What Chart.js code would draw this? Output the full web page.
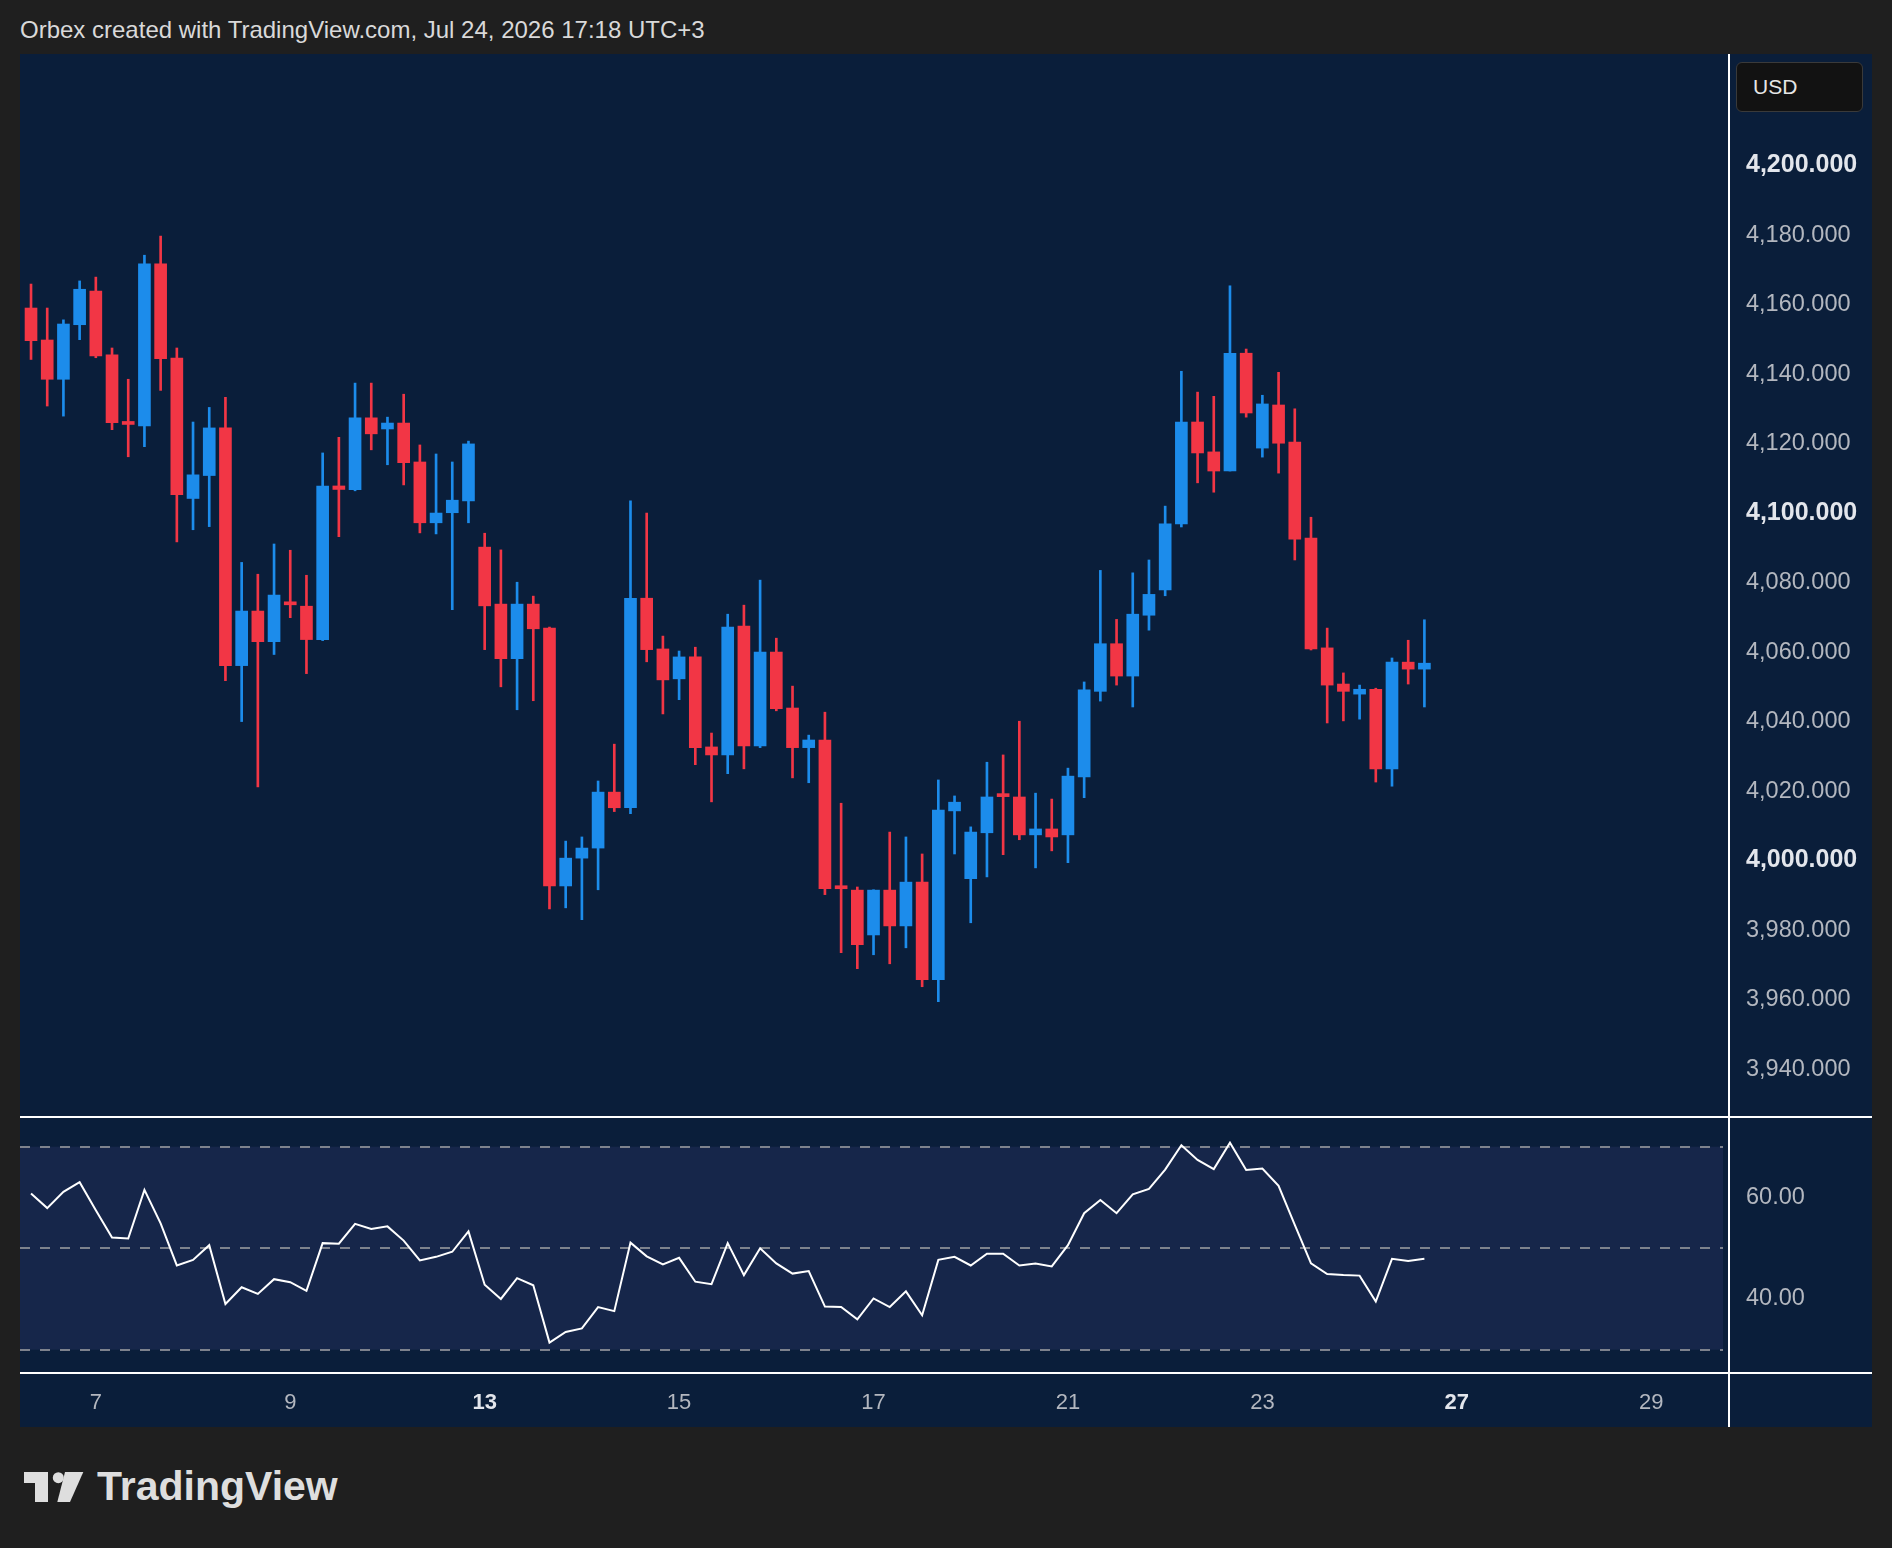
<!DOCTYPE html>
<html>
<head>
<meta charset="utf-8">
<title>4H chart</title>
<script src="https://cdn.jsdelivr.net/npm/chart.js@4.4.1/dist/chart.umd.min.js"></script>
<style>
    html, body { margin: 0; padding: 0; width: 1892px; height: 1548px; overflow: hidden; background: #1f1f1f; font-family: "Liberation Sans", Arial, sans-serif; }
    .title { position: absolute; left: 20px; top: 15px; font-size: 24px; line-height: 30px; color: #d9d9d9; white-space: nowrap; }
    .panel { position: absolute; left: 20px; top: 54px; width: 1852px; height: 1373px; background: #0a1e3a; }
    #main { position: absolute; left: 20px; top: 54px; }
    #rsi { position: absolute; left: 20px; top: 1116px; }
    .usd { position: absolute; left: 1736px; top: 62px; width: 125px; height: 48px; background: #121212; border: 1px solid #3a3a3a; border-radius: 6px; color: #e6e6e6; font-size: 21px; line-height: 48px; box-sizing: content-box; }
    .usd span { margin-left: 16px; }
    .logo { position: absolute; left: 24px; top: 1472px; }
    .brand { position: absolute; left: 97px; top: 1461px; font-size: 41px; font-weight: bold; color: #dedede; line-height: 50px; }
</style>
</head>
<body>
<div class="title">Orbex created with TradingView.com, Jul 24, 2026 17:18 UTC+3</div>
<div class="panel"></div>
<canvas id="main" width="1852" height="1062"></canvas>
<canvas id="rsi" width="1852" height="311"></canvas>
<div class="usd"><span>USD</span></div>
<svg class="logo" width="60" height="30" viewBox="0 0 60 30">
    <path d="M0 0H24V11H24V30H11V11H0Z" fill="#dedede"/>
    <circle cx="34.3" cy="5.7" r="5.5" fill="#dedede"/>
    <path d="M41 0H59.3L46 30H33.3Z" fill="#dedede"/>
</svg>
<div class="brand">TradingView</div>

<script>
// 4H candles, Jul 6 - Jul 24
const opens = [4159.0, 4149.8, 4138.5, 4154.2, 4163.9, 4145.5, 4126.0, 4125.1, 4171.7, 4144.6,
    4104.2, 4110.8, 4124.5, 4056.1, 4071.8, 4063.0, 4074.2, 4073.2, 4063.6, 4107.8,
    4106.7, 4127.4, 4124.2, 4125.9, 4114.7, 4097.2, 4100.1, 4103.5, 4090.2, 4073.8,
    4058.1, 4073.8, 4066.9, 3992.7, 4000.7, 4003.6, 4019.7, 4015.2, 4075.5, 4060.9,
    4052.3, 4058.6, 4032.7, 4030.4, 4067.5, 4033.0, 4060.0, 4043.9, 4032.5, 4034.7,
    3992.5, 3991.5, 3978.6, 3991.5, 3981.2, 3993.8, 3965.7, 4014.3, 3994.8, 4008.0,
    4018.8, 4018.3, 4007.4, 4009.1, 4007.4, 4024.1, 4048.7, 4062.4, 4053.1, 4070.6,
    4077.9, 4096.9, 4126.2, 4117.6, 4112.1, 4146.0, 4118.7, 4131.1, 4120.4, 4092.8,
    4061.2, 4050.8, 4047.9, 4049.3, 4026.4, 4057.1, 4055.1]
const highs = [4165.9, 4159.0, 4155.6, 4166.8, 4167.9, 4147.5, 4138.5, 4174.2, 4179.7, 4147.5,
    4126.2, 4130.4, 4133.3, 4085.8, 4082.4, 4091.1, 4089.3, 4082.1, 4117.3, 4121.8,
    4137.4, 4137.4, 4127.6, 4134.2, 4119.6, 4117.0, 4114.7, 4120.7, 4094.2, 4089.4,
    4080.1, 4076.1, 4067.2, 4005.6, 4006.8, 4022.9, 4033.5, 4103.5, 4100.0, 4064.6,
    4060.3, 4061.4, 4036.7, 4070.9, 4073.5, 4080.7, 4064.0, 4050.2, 4036.1, 4042.7,
    4016.5, 3992.4, 3991.6, 4008.2, 4006.8, 4001.9, 4023.2, 4018.6, 4009.7, 4028.3,
    4030.4, 4040.1, 4019.4, 4017.7, 4026.6, 4051.4, 4083.5, 4069.4, 4082.8, 4086.5,
    4102.0, 4140.8, 4134.8, 4133.6, 4165.4, 4147.2, 4133.9, 4140.5, 4130.0, 4098.8,
    4066.9, 4054.0, 4050.5, 4049.6, 4058.3, 4063.4, 4069.3]
const lows = [4144.2, 4130.8, 4127.9, 4149.9, 4144.7, 4124.0, 4116.2, 4119.1, 4135.3, 4091.7,
    4095.2, 4096.1, 4051.8, 4040.0, 4021.2, 4059.3, 4069.9, 4053.8, 4063.3, 4093.2,
    4106.4, 4118.2, 4113.9, 4108.1, 4094.3, 4094.0, 4072.2, 4097.2, 4060.7, 4050.0,
    4043.4, 4046.0, 3986.1, 3986.4, 3983.0, 3991.6, 4014.1, 4013.5, 4057.2, 4042.2,
    4046.3, 4027.6, 4016.9, 4025.0, 4026.4, 4032.5, 4043.1, 4023.8, 4022.4, 3990.2,
    3973.5, 3968.9, 3972.9, 3970.3, 3974.9, 3963.7, 3959.4, 4001.9, 3982.1, 3995.3,
    4001.7, 4006.0, 3997.9, 4002.8, 3999.4, 4018.1, 4045.9, 4050.5, 4044.2, 4066.3,
    4076.2, 4096.0, 4108.7, 4106.0, 4112.1, 4127.6, 4116.1, 4111.5, 4086.5, 4060.6,
    4039.6, 4040.2, 4040.7, 4022.6, 4021.4, 4050.8, 4044.2]
const closes = [4149.6, 4138.5, 4154.4, 4164.4, 4145.2, 4126.0, 4125.5, 4171.7, 4144.4, 4105.3,
    4111.0, 4124.5, 4056.1, 4071.8, 4063.0, 4076.4, 4073.6, 4063.6, 4107.8, 4106.8,
    4127.4, 4122.8, 4125.9, 4114.5, 4097.2, 4100.0, 4103.7, 4119.9, 4073.3, 4058.1,
    4073.8, 4066.7, 3992.7, 4000.7, 4003.6, 4019.7, 4015.2, 4075.5, 4060.7, 4052.0,
    4058.6, 4032.5, 4030.4, 4067.2, 4033.0, 4060.0, 4043.7, 4032.5, 4034.7, 3991.9,
    3991.9, 3975.8, 3991.5, 3981.2, 3993.8, 3965.7, 4014.5, 4016.8, 4008.2, 4018.3,
    4018.4, 4007.4, 4009.1, 4006.8, 4024.3, 4049.1, 4062.4, 4053.1, 4070.9, 4076.6,
    4096.9, 4126.2, 4117.3, 4112.1, 4146.0, 4128.8, 4131.4, 4120.1, 4092.5, 4060.9,
    4050.5, 4048.7, 4049.3, 4026.4, 4057.1, 4055.1, 4056.8]

// RSI(14)
const rsi = [60.8, 57.9, 61.1, 63.0, 57.5, 52.1, 51.9, 61.5, 54.9, 46.6,
    47.7, 50.6, 39.0, 42.3, 41.0, 43.9, 43.3, 41.6, 51.0, 50.9,
    54.8, 53.8, 54.3, 51.5, 47.6, 48.3, 49.3, 53.3, 42.8, 40.0,
    44.1, 42.7, 31.4, 33.5, 34.2, 38.4, 37.6, 51.1, 48.4, 46.8,
    48.1, 43.4, 42.9, 51.0, 44.7, 50.0, 47.0, 45.0, 45.5, 38.5,
    38.4, 36.0, 40.1, 38.4, 41.5, 36.8, 47.7, 48.3, 46.6, 48.9,
    48.9, 46.6, 47.0, 46.4, 50.6, 56.9, 59.5, 56.9, 60.6, 61.7,
    65.5, 70.3, 67.4, 65.6, 70.8, 65.4, 65.7, 62.3, 54.6, 47.0,
    44.9, 44.7, 44.6, 39.5, 47.9, 47.5, 47.9]

const priceTicks = [3940, 3960, 3980, 4000, 4020, 4040, 4060, 4080, 4100, 4120, 4140, 4160, 4180, 4200]
const boldPrices = [4000, 4100, 4200]
const rsiTicks = [40, 60]
const rsiLevels = [70, 50, 30]
const dayTicks = [4, 16, 28, 40, 52, 64, 76, 88, 100]
const dayLabels = ['7', '9', '13', '15', '17', '21', '23', '27', '29']
const boldDays = ['13', '27']

const up = '#1c8ceb'
const down = '#f23645'
const axisFont = '"Liberation Sans", Arial, sans-serif'
const xMin = -0.68
const xMax = 104.8

Chart.defaults.font.family = axisFont

const colors = closes.map((c, i) => c >= opens[i] ? up : down)

// white separators of the panes
const separators = {
    id: 'separators',
    afterDraw(chart, args, opts) {
        const { ctx, chartArea } = chart
        ctx.save()
        ctx.strokeStyle = '#ffffff'
        ctx.lineWidth = 2
        ctx.beginPath()
        ctx.moveTo(chartArea.right, 0)
        ctx.lineTo(chartArea.right, chart.height)
        if (opts.top) {
            ctx.moveTo(0, 1)
            ctx.lineTo(chart.width, 1)
        }
        if (opts.bottom) {
            ctx.moveTo(0, chartArea.bottom)
            ctx.lineTo(chart.width, chartArea.bottom)
        }
        ctx.stroke()
        ctx.restore()
    }
}

// rsi 30-70 band and dashed levels
const rsiBand = {
    id: 'rsiBand',
    beforeDatasetsDraw(chart) {
        const { ctx, chartArea } = chart
        const y = chart.scales.y
        const top = y.getPixelForValue(rsiLevels[0])
        const bottom = y.getPixelForValue(rsiLevels[rsiLevels.length - 1])
        ctx.save()
        ctx.fillStyle = '#16264a'
        ctx.fillRect(chartArea.left, top, chartArea.right - chartArea.left - 6, bottom - top)
        ctx.strokeStyle = '#7d828d'
        ctx.lineWidth = 2
        ctx.setLineDash([10, 10])
        for (let lvl of rsiLevels) {
            const py = Math.round(y.getPixelForValue(lvl))
            ctx.beginPath()
            ctx.moveTo(chartArea.left, py)
            ctx.lineTo(chartArea.right - 6, py)
            ctx.stroke()
        }
        ctx.restore()
    }
}

function fmtPrice(v) {
    return v.toLocaleString('en-US', { minimumFractionDigits: 3, maximumFractionDigits: 3 })
}

function isBoldPrice(ctx) {
    return !!ctx.tick && boldPrices.includes(ctx.tick.value)
}

function isBoldDay(ctx) {
    return !!ctx.tick && boldDays.includes(dayLabels[dayTicks.indexOf(ctx.tick.value)])
}

const idx = opens.map((_, i) => i)

new Chart(document.querySelector('#main'), {
    type: 'bar',
    data: {
        datasets: [
            {
                label: 'wick',
                data: idx.map(i => ({ x: i, y: [lows[i], highs[i]] })),
                backgroundColor: colors,
                barThickness: 2,
                grouped: false,
                order: 2
            },
            {
                label: 'body',
                data: idx.map(i => ({ x: i, y: [opens[i], closes[i]] })),
                backgroundColor: colors,
                barThickness: 12,
                minBarLength: 3,
                grouped: false,
                order: 1
            }
        ]
    },
    options: {
        responsive: false,
        animation: false,
        layout: { padding: 0 },
        plugins: {
            legend: { display: false },
            tooltip: { enabled: false },
            separators: { top: false, bottom: false }
        },
        scales: {
            x: { type: 'linear', min: xMin, max: xMax, offset: false, display: false },
            y: {
                position: 'right',
                min: 3926.5,
                max: 4232.1,
                grid: { display: false, drawTicks: false },
                border: { display: false },
                afterBuildTicks: s => { s.ticks = priceTicks.map(v => ({ value: v })) },
                afterFit: s => { s.width = 143; s.paddingTop = 0; s.paddingBottom = 0 },
                ticks: {
                    padding: 17,
                    color: ctx => isBoldPrice(ctx) ? '#e3e6ec' : '#b3b7bf',
                    font: ctx => ({ size: isBoldPrice(ctx) ? 25 : 23.5, weight: isBoldPrice(ctx) ? 'bold' : 'normal' }),
                    callback: v => fmtPrice(v)
                }
            }
        }
    },
    plugins: [separators]
})

new Chart(document.querySelector('#rsi'), {
    type: 'line',
    data: {
        datasets: [{
            label: 'RSI',
            data: rsi.map((v, i) => ({ x: i, y: v })),
            borderColor: '#ffffff',
            borderWidth: 2,
            pointRadius: 0,
            tension: 0
        }]
    },
    options: {
        responsive: false,
        animation: false,
        layout: { padding: 0 },
        plugins: {
            legend: { display: false },
            tooltip: { enabled: false },
            separators: { top: true, bottom: true }
        },
        scales: {
            x: {
                type: 'linear',
                min: xMin,
                max: xMax,
                offset: false,
                grid: { display: false, drawTicks: false },
                border: { display: false },
                afterBuildTicks: s => { s.ticks = dayTicks.map(v => ({ value: v })) },
                afterFit: s => { s.height = 54; s.paddingLeft = 0; s.paddingRight = 0 },
                ticks: {
                    padding: 17,
                    autoSkip: false,
                    maxRotation: 0,
                    color: ctx => isBoldDay(ctx) ? '#e3e6ec' : '#b3b7bf',
                    font: ctx => ({ size: 22, weight: isBoldDay(ctx) ? 'bold' : 'normal' }),
                    callback: v => dayLabels[dayTicks.indexOf(v)]
                }
            },
            y: {
                position: 'right',
                min: 25.41,
                max: 76.05,
                grid: { display: false, drawTicks: false },
                border: { display: false },
                afterBuildTicks: s => { s.ticks = rsiTicks.map(v => ({ value: v })) },
                afterFit: s => { s.width = 143; s.paddingTop = 0; s.paddingBottom = 0 },
                ticks: {
                    padding: 17,
                    color: '#b3b7bf',
                    font: { size: 23.5 },
                    callback: v => v.toFixed(2)
                }
            }
        }
    },
    plugins: [rsiBand, separators]
})
</script>
</body>
</html>
